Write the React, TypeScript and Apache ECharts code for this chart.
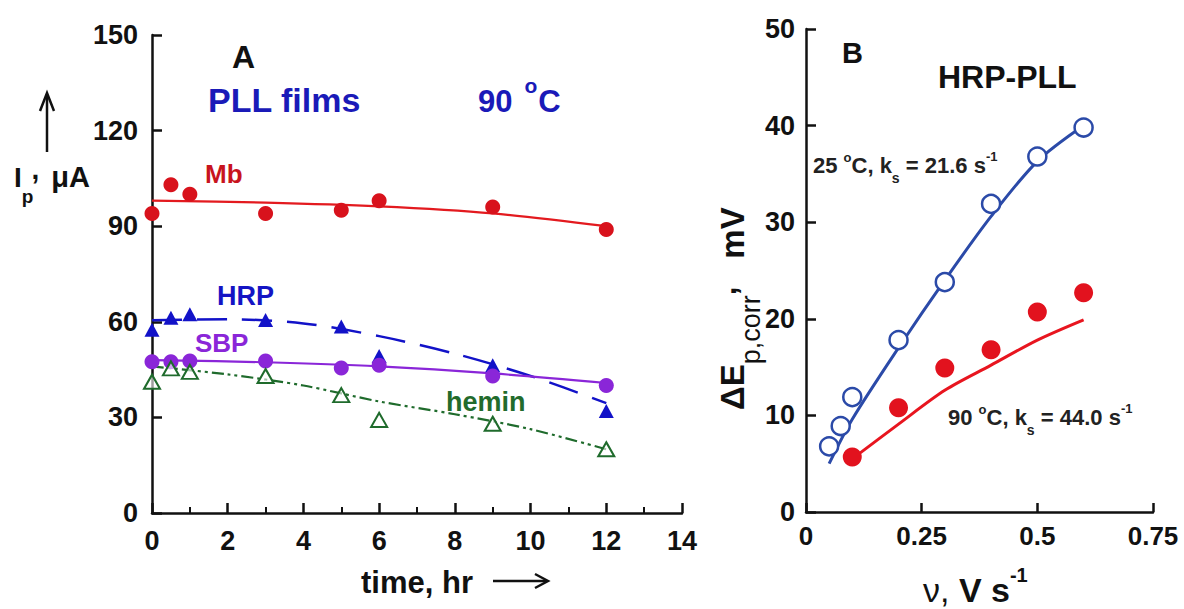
import React, { useEffect, useRef } from 'react';
import * as echarts from 'echarts';

const FF = "'Liberation Sans', Arial, Helvetica, sans-serif";

// ---------- Panel A : peak current vs time ----------
const timeTicks = [0, 2, 4, 6, 8, 10, 12, 14];
const currentTicks = [0, 30, 60, 90, 120, 150];

const mbTime = [0, 0.5, 1, 3, 5, 6, 9, 12];
const mbValues = [94, 103, 100, 94, 95, 98, 96, 89];
const mbFit = [[0, 98], [3, 97.4], [6, 96.2], [9, 94], [12, 90]];

const hrpTime = [0, 0.5, 1, 3, 5, 6, 9, 12];
const hrpValues = [57.5, 61.3, 62.4, 60.6, 58.5, 49.3, 46.4, 32];
const hrpFit = [[0, 60.5], [2, 60.8], [4, 59.5], [6, 55.5], [8, 50], [10, 43], [12, 34.5]];

const sbpTime = [0, 0.5, 1, 3, 5, 6, 9, 12];
const sbpValues = [47.5, 47.5, 47.7, 47.7, 45.5, 46.4, 43, 40];
const sbpFit = [[0, 48], [3, 47.3], [6, 46], [9, 43.8], [12, 40.8]];

const heminTime = [0, 0.5, 1, 3, 5, 6, 9, 12];
const heminValues = [41.2, 45.4, 44.3, 43, 37, 29.2, 28, 20];
const heminFit = [[0, 46], [2, 43.5], [4, 40], [6, 35], [8, 31], [10, 26.3], [12, 20]];

// ---------- Panel B : peak separation vs scan rate ----------
const rateTicks = [0, 0.25, 0.5, 0.75];
const dETicks = [0, 10, 20, 30, 40, 50];

const rate25 = [0.05, 0.075, 0.1, 0.2, 0.3, 0.4, 0.5, 0.6];
const dE25 = [6.8, 8.9, 11.9, 17.8, 23.8, 31.9, 36.8, 39.8];
const fit25 = [[0.05, 5], [0.1, 9.6], [0.2, 17], [0.3, 24], [0.4, 30.6], [0.5, 36.3], [0.6, 40]];

const rate90 = [0.1, 0.2, 0.3, 0.4, 0.5, 0.6];
const dE90 = [5.7, 10.8, 14.9, 16.8, 20.7, 22.7];
const fit90 = [[0.1, 5.5], [0.2, 9.1], [0.3, 12.6], [0.4, 15.2], [0.5, 17.8], [0.6, 19.9]];

const zip = (xs: number[], ys: number[]) => xs.map((x, i) => [x, ys[i]]);

let mctx: CanvasRenderingContext2D | null = null;
function tw(text: string, size: number, weight: string) {
  if (!mctx) mctx = document.createElement('canvas').getContext('2d');
  if (!mctx) return text.length * size * 0.55;
  mctx.font = `${weight} ${size}px ${FF}`;
  return mctx.measureText(text).width;
}

type Seg = { t: string; s: number; dy?: number; w?: string; gap?: number; fill?: string };

function run(x: number, base: number, segs: Seg[], fill: string, rotation = 0) {
  let cx = 0;
  const children: any[] = [];
  segs.forEach((sg) => {
    cx += sg.gap || 0;
    const w = sg.w || 'bold';
    children.push({
      type: 'text',
      x: cx,
      y: (sg.dy || 0) - 0.35 * sg.s,
      style: {
        text: sg.t,
        fontSize: sg.s,
        fontWeight: w,
        fontFamily: FF,
        fill: sg.fill || fill,
        align: 'left',
        verticalAlign: 'middle',
      },
    });
    cx += tw(sg.t, sg.s, w);
  });
  return { type: 'group', x, y: base, rotation, children };
}

const axisCommon = (labelMargin: number, tickLen: number, fs: number) => ({
  axisLine: { show: true, lineStyle: { color: '#111', width: 2.5 } },
  axisTick: { show: true, inside: true, length: tickLen, lineStyle: { color: '#111', width: 2.5 } },
  axisLabel: { fontSize: fs, fontWeight: 'bold', color: '#111', fontFamily: FF, margin: labelMargin },
  splitLine: { show: false },
});

export default function App() {
  const ref = useRef<HTMLDivElement>(null);
  useEffect(() => {
    if (!ref.current) return;
    const chart = echarts.init(ref.current, undefined, { renderer: 'svg' });
    const red = '#d8121c';
    const blue = '#1212c8';
    const purple = '#8a26d8';
    const green = '#1f6b2c';
    const bBlue = '#2b4aa8';
    const bRed = '#e2121e';

    const option: any = {
      animation: false,
      backgroundColor: '#fff',
      grid: [
        { left: 152, top: 35, width: 530, height: 478 },
        { left: 806, top: 29, width: 347, height: 483 },
      ],
      xAxis: [
        {
          type: 'value', gridIndex: 0, min: timeTicks[0], max: timeTicks[timeTicks.length - 1], interval: 2,
          ...axisCommon(14, 10, 27),
          minorTick: { show: true, splitNumber: 2, length: 6, lineStyle: { color: '#111', width: 2 } },
        },
        {
          type: 'value', gridIndex: 1, min: rateTicks[0], max: rateTicks[rateTicks.length - 1], interval: 0.25,
          ...axisCommon(11, 9, 26),
        },
      ],
      yAxis: [
        {
          type: 'value', gridIndex: 0, min: currentTicks[0], max: currentTicks[currentTicks.length - 1], interval: 30,
          ...axisCommon(14, 10, 27),
        },
        {
          type: 'value', gridIndex: 1, min: dETicks[0], max: dETicks[dETicks.length - 1], interval: 10,
          ...axisCommon(11, 10, 27),
        },
      ],
      series: [
        { type: 'line', xAxisIndex: 0, yAxisIndex: 0, data: mbFit, smooth: 0.3, showSymbol: false, lineStyle: { color: '#e31a1f', width: 2.2 }, z: 2 },
        { type: 'line', xAxisIndex: 0, yAxisIndex: 0, data: hrpFit, smooth: 0.3, showSymbol: false, lineStyle: { color: blue, width: 2.5, type: [30, 15] }, z: 2 },
        { type: 'line', xAxisIndex: 0, yAxisIndex: 0, data: sbpFit, smooth: 0.3, showSymbol: false, lineStyle: { color: purple, width: 2.2 }, z: 2 },
        { type: 'line', xAxisIndex: 0, yAxisIndex: 0, data: heminFit, smooth: 0.3, showSymbol: false, lineStyle: { color: green, width: 2.2, type: [12, 4, 3, 4, 3, 4] }, z: 2 },
        { type: 'scatter', xAxisIndex: 0, yAxisIndex: 0, data: zip(mbTime, mbValues), symbol: 'circle', symbolSize: 15, itemStyle: { color: red, opacity: 1 }, z: 3 },
        { type: 'scatter', xAxisIndex: 0, yAxisIndex: 0, data: zip(hrpTime, hrpValues), symbol: 'triangle', symbolSize: [15, 14], itemStyle: { color: blue, opacity: 1 }, z: 3 },
        { type: 'scatter', xAxisIndex: 0, yAxisIndex: 0, data: zip(sbpTime, sbpValues), symbol: 'circle', symbolSize: 15, itemStyle: { color: purple, opacity: 1 }, z: 3 },
        { type: 'scatter', xAxisIndex: 0, yAxisIndex: 0, data: zip(heminTime, heminValues), symbol: 'triangle', symbolSize: [16, 14], itemStyle: { color: 'rgba(255,255,255,0.6)', borderColor: green, borderWidth: 2, opacity: 1 }, z: 4 },

        { type: 'line', xAxisIndex: 1, yAxisIndex: 1, data: fit25, smooth: 0.3, showSymbol: false, lineStyle: { color: bBlue, width: 3 }, z: 2 },
        { type: 'line', xAxisIndex: 1, yAxisIndex: 1, data: fit90, smooth: 0.3, showSymbol: false, lineStyle: { color: '#e8151f', width: 3 }, z: 2 },
        { type: 'scatter', xAxisIndex: 1, yAxisIndex: 1, data: zip(rate25, dE25), symbol: 'circle', symbolSize: 18, itemStyle: { color: '#fff', borderColor: bBlue, borderWidth: 2.5, opacity: 1 }, z: 3 },
        { type: 'scatter', xAxisIndex: 1, yAxisIndex: 1, data: zip(rate90, dE90), symbol: 'circle', symbolSize: 19, itemStyle: { color: bRed, opacity: 1 }, z: 3 },
      ],
      graphic: [
        run(232, 68, [{ t: 'A', s: 32 }], '#111'),
        run(208, 112, [{ t: 'PLL films', s: 34 }], '#1a1ab8'),
        run(478, 112, [{ t: '90', s: 31 }, { t: 'o', s: 21, dy: -19, gap: 12 }, { t: 'C', s: 31, gap: 1 }], '#1a1ab8'),
        run(205, 183, [{ t: 'Mb', s: 26 }], '#c8141e'),
        run(217, 305, [{ t: 'HRP', s: 27 }], '#1414c4'),
        run(195, 352, [{ t: 'SBP', s: 26 }], '#8a26d8'),
        run(446, 411, [{ t: 'hemin', s: 27 }], '#226b2c'),
        // y-axis title of panel A
        run(14, 187, [{ t: 'I', s: 28 }, { t: 'p', s: 19, dy: 16 }, { t: ',', s: 28, dy: -8, gap: -2 }, { t: 'μA', s: 29, gap: 12 }], '#111'),
        { type: 'line', shape: { x1: 47, y1: 152, x2: 47, y2: 95 }, style: { stroke: '#111', lineWidth: 2.5 } },
        { type: 'polyline', shape: { points: [[40, 111], [47, 93], [54, 111]] }, style: { stroke: '#111', lineWidth: 2.5, fill: null } },
        // x-axis title of panel A
        run(361, 593, [{ t: 'time, hr', s: 31 }], '#111'),
        { type: 'line', shape: { x1: 493, y1: 581, x2: 547, y2: 581 }, style: { stroke: '#111', lineWidth: 2.5 } },
        { type: 'polyline', shape: { points: [[535, 574], [548, 581], [535, 588]] }, style: { stroke: '#111', lineWidth: 2.5, fill: null } },

        // Panel B
        run(842, 63, [{ t: 'B', s: 29 }], '#111'),
        run(938, 88, [{ t: 'HRP-PLL', s: 32 }], '#111'),
        run(813, 173, [{ t: '25 ', s: 22 }, { t: 'o', s: 13, dy: -11 }, { t: 'C, k', s: 22 }, { t: 's', s: 14, dy: 10 }, { t: ' = 21.6 s', s: 22 }, { t: '-1', s: 13, dy: -12 }], '#222'),
        run(948, 425, [{ t: '90 ', s: 22 }, { t: 'o', s: 13, dy: -11 }, { t: 'C, k', s: 22 }, { t: 's', s: 14, dy: 10 }, { t: ' = 44.0 s', s: 22 }, { t: '-1', s: 13, dy: -12 }], '#222'),
        run(744, 410, [{ t: 'ΔE', s: 33 }, { t: 'p,corr', s: 27, dy: 16, w: 'normal' }, { t: ',', s: 31, dy: -8 }, { t: 'mV', s: 33, gap: 28 }], '#111', Math.PI / 2),
        run(923, 602, [{ t: 'ν, ', s: 34, w: 'normal' }, { t: 'V ', s: 34 }, { t: 's', s: 34 }, { t: '-1', s: 20, dy: -20 }], '#111'),
      ],
    };
    chart.setOption(option);
    return () => chart.dispose();
  }, []);
  return (
    <div
      ref={ref}
      style={{ position: 'absolute', left: 0, top: 0, width: 1184, height: 609, background: '#fff' }}
    />
  );
}
